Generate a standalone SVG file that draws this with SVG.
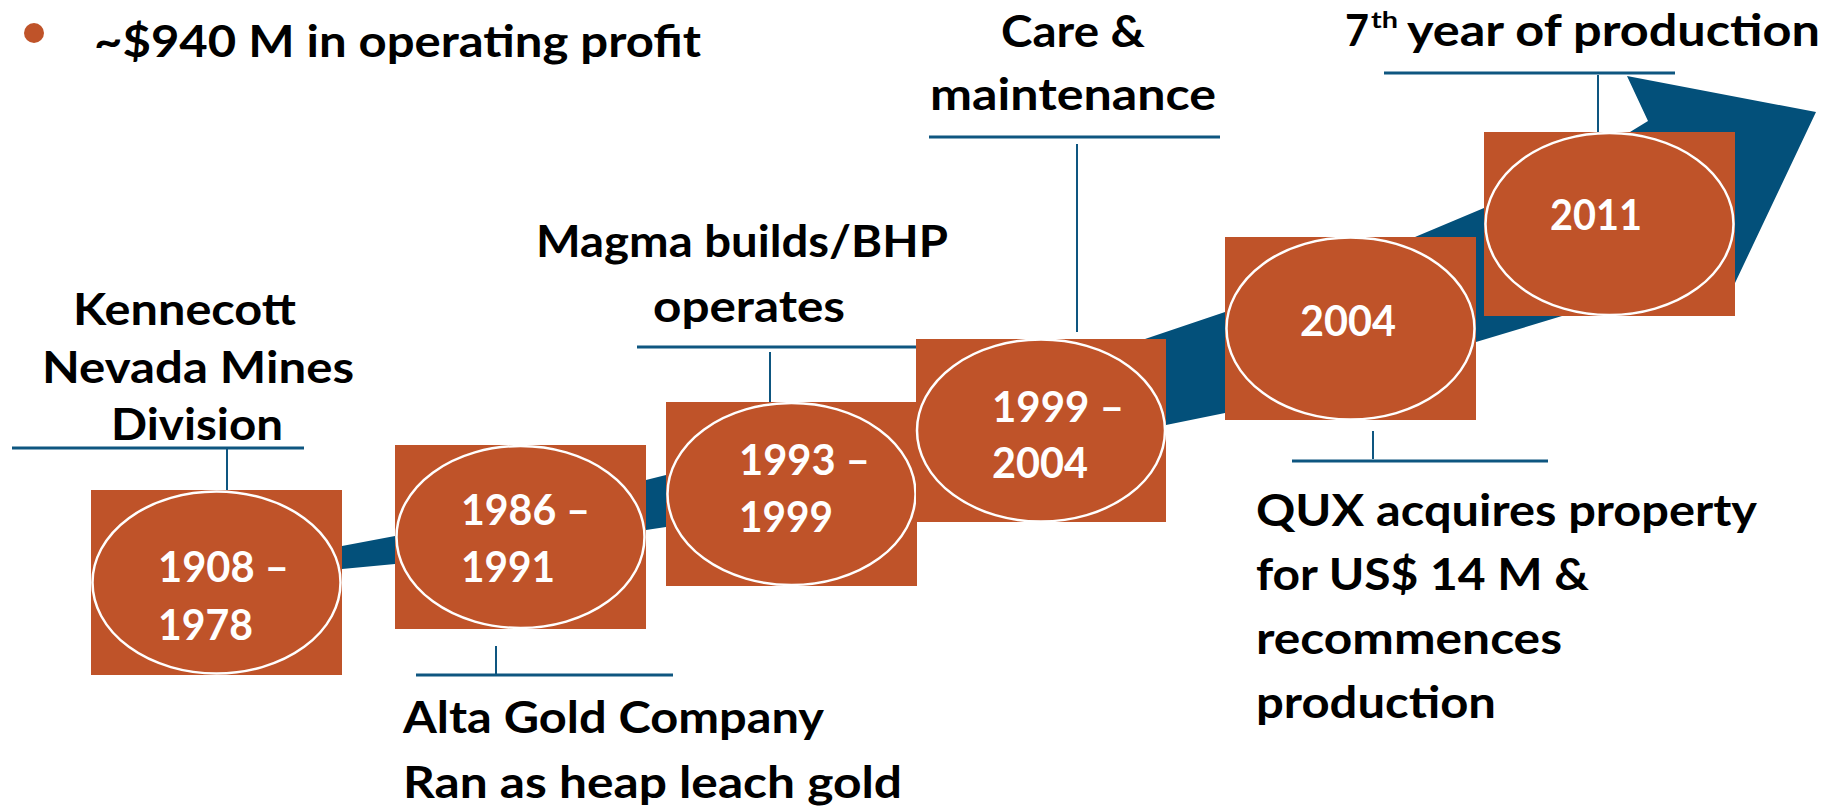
<svg xmlns="http://www.w3.org/2000/svg" width="1839" height="807" viewBox="0 0 1839 807">
  <style>
    .lbl { font-family: Lato, "Liberation Sans", sans-serif; font-weight: bold; font-size: 43px; fill: #000; }
    .yr { font-family: Lato, "Liberation Sans", sans-serif; font-weight: bold; font-size: 42px; fill: #fff; }
    .box rect { fill: #BF5329; }
    .box ellipse { fill: #BF5329; stroke: #fff; stroke-width: 2.5; }
    .rule { stroke: #0E5680; stroke-width: 3; fill: none; }
    .tick { stroke: #0E5680; stroke-width: 2; fill: none; }
  </style>

  <rect width="1839" height="807" fill="#fff"/>

  <!-- headline bullet -->
  <g id="headline">
    <circle cx="34" cy="33" r="10" fill="#BF5329"/>
    <text class="lbl" x="94" y="57" textLength="607" lengthAdjust="spacingAndGlyphs">~$940 M in operating profit</text>
  </g>

  <!-- rising arrow behind the milestones -->
  <g id="trend-arrow">
    <polygon fill="#03507A" points="300,552 342,546 395,536 646,480 666,475 916,410 1145,339 1225,312 1415,237 1484,208 1630,132 1648,121 1627,76 1816,112 1735,283 1725,305 1562,316 1476,342 1225,413 1166,425 666,527 646,530 395,564 342,569 300,574"/>
  </g>

  <!-- callout leaders -->
  <g id="connectors">
    <line class="rule" x1="12" y1="448" x2="304" y2="448"/>
    <line class="tick" x1="227" y1="448" x2="227" y2="490"/>

    <line class="rule" x1="416" y1="675" x2="673" y2="675"/>
    <line class="tick" x1="496" y1="646" x2="496" y2="675"/>

    <line class="rule" x1="637" y1="347" x2="916" y2="347"/>
    <line class="tick" x1="770" y1="352" x2="770" y2="402"/>

    <line class="rule" x1="929" y1="137" x2="1220" y2="137"/>
    <line class="tick" x1="1077" y1="144" x2="1077" y2="332"/>

    <line class="rule" x1="1292" y1="461" x2="1548" y2="461"/>
    <line class="tick" x1="1373" y1="431" x2="1373" y2="459"/>

    <line class="rule" x1="1384" y1="73" x2="1675" y2="73"/>
    <line class="tick" x1="1598" y1="75" x2="1598" y2="132"/>
  </g>

  <!-- milestones -->
  <g id="m1908" class="box">
    <rect x="91" y="490" width="251" height="185"/>
    <ellipse cx="216.5" cy="582.5" rx="124" ry="91"/>
    <text class="yr" x="158" y="582" textLength="131" lengthAdjust="spacingAndGlyphs">1908 –</text>
    <text class="yr" x="158" y="640" textLength="95" lengthAdjust="spacingAndGlyphs">1978</text>
  </g>

  <g id="m1986" class="box">
    <rect x="395" y="445" width="251" height="184"/>
    <ellipse cx="520.5" cy="537" rx="124" ry="91"/>
    <text class="yr" x="461" y="525" textLength="129" lengthAdjust="spacingAndGlyphs">1986 –</text>
    <text class="yr" x="461" y="582" textLength="94" lengthAdjust="spacingAndGlyphs">1991</text>
  </g>

  <g id="m1993" class="box">
    <rect x="666" y="402" width="251" height="184"/>
    <ellipse cx="791.5" cy="494" rx="124" ry="91"/>
    <text class="yr" x="739" y="475" textLength="131" lengthAdjust="spacingAndGlyphs">1993 –</text>
    <text class="yr" x="739" y="532" textLength="94" lengthAdjust="spacingAndGlyphs">1999</text>
  </g>

  <g id="m1999" class="box">
    <rect x="916" y="339" width="250" height="183"/>
    <ellipse cx="1041" cy="430.5" rx="124" ry="91"/>
    <text class="yr" x="992" y="422" textLength="132" lengthAdjust="spacingAndGlyphs">1999 –</text>
    <text class="yr" x="992" y="478" textLength="96" lengthAdjust="spacingAndGlyphs">2004</text>
  </g>

  <g id="m2004" class="box">
    <rect x="1225" y="237" width="251" height="183"/>
    <ellipse cx="1350.5" cy="328.5" rx="124" ry="91"/>
    <text class="yr" x="1300" y="336" textLength="96" lengthAdjust="spacingAndGlyphs">2004</text>
  </g>

  <g id="m2011" class="box">
    <rect x="1484" y="132" width="251" height="184"/>
    <ellipse cx="1609.5" cy="224" rx="124" ry="91"/>
    <text class="yr" x="1550" y="230" textLength="92" lengthAdjust="spacingAndGlyphs">2011</text>
  </g>

  <!-- captions -->
  <g id="cap-kennecott">
    <text class="lbl" x="73" y="325" textLength="223" lengthAdjust="spacingAndGlyphs">Kennecott</text>
    <text class="lbl" x="42" y="383" textLength="312" lengthAdjust="spacingAndGlyphs">Nevada Mines</text>
    <text class="lbl" x="111" y="440" textLength="172" lengthAdjust="spacingAndGlyphs">Division</text>
  </g>

  <g id="cap-alta">
    <text class="lbl" x="403" y="733" textLength="421" lengthAdjust="spacingAndGlyphs">Alta Gold Company</text>
    <text class="lbl" x="403" y="798" textLength="499" lengthAdjust="spacingAndGlyphs">Ran as heap leach gold</text>
  </g>

  <g id="cap-magma">
    <text class="lbl" x="536" y="257" textLength="412" lengthAdjust="spacingAndGlyphs">Magma builds/BHP</text>
    <text class="lbl" x="653" y="322" textLength="192" lengthAdjust="spacingAndGlyphs">operates</text>
  </g>

  <g id="cap-care">
    <text class="lbl" x="1001" y="47" textLength="144" lengthAdjust="spacingAndGlyphs">Care &amp;</text>
    <text class="lbl" x="930" y="110" textLength="286" lengthAdjust="spacingAndGlyphs">maintenance</text>
  </g>

  <g id="cap-qux">
    <text class="lbl" x="1256" y="526" textLength="501" lengthAdjust="spacingAndGlyphs">QUX acquires property</text>
    <text class="lbl" x="1256" y="590" textLength="333" lengthAdjust="spacingAndGlyphs">for US$ 14 M &amp;</text>
    <text class="lbl" x="1256" y="654" textLength="306" lengthAdjust="spacingAndGlyphs">recommences</text>
    <text class="lbl" x="1256" y="718" textLength="240" lengthAdjust="spacingAndGlyphs">production</text>
  </g>

  <g id="cap-2011">
    <text class="lbl" y="46" style="font-size:44px"><tspan x="1345" textLength="24" lengthAdjust="spacingAndGlyphs">7</tspan><tspan x="1371" y="28" style="font-size:23px" textLength="27" lengthAdjust="spacingAndGlyphs">th</tspan><tspan x="1407" y="46" textLength="413" lengthAdjust="spacingAndGlyphs">year of production</tspan></text>
  </g>
</svg>
